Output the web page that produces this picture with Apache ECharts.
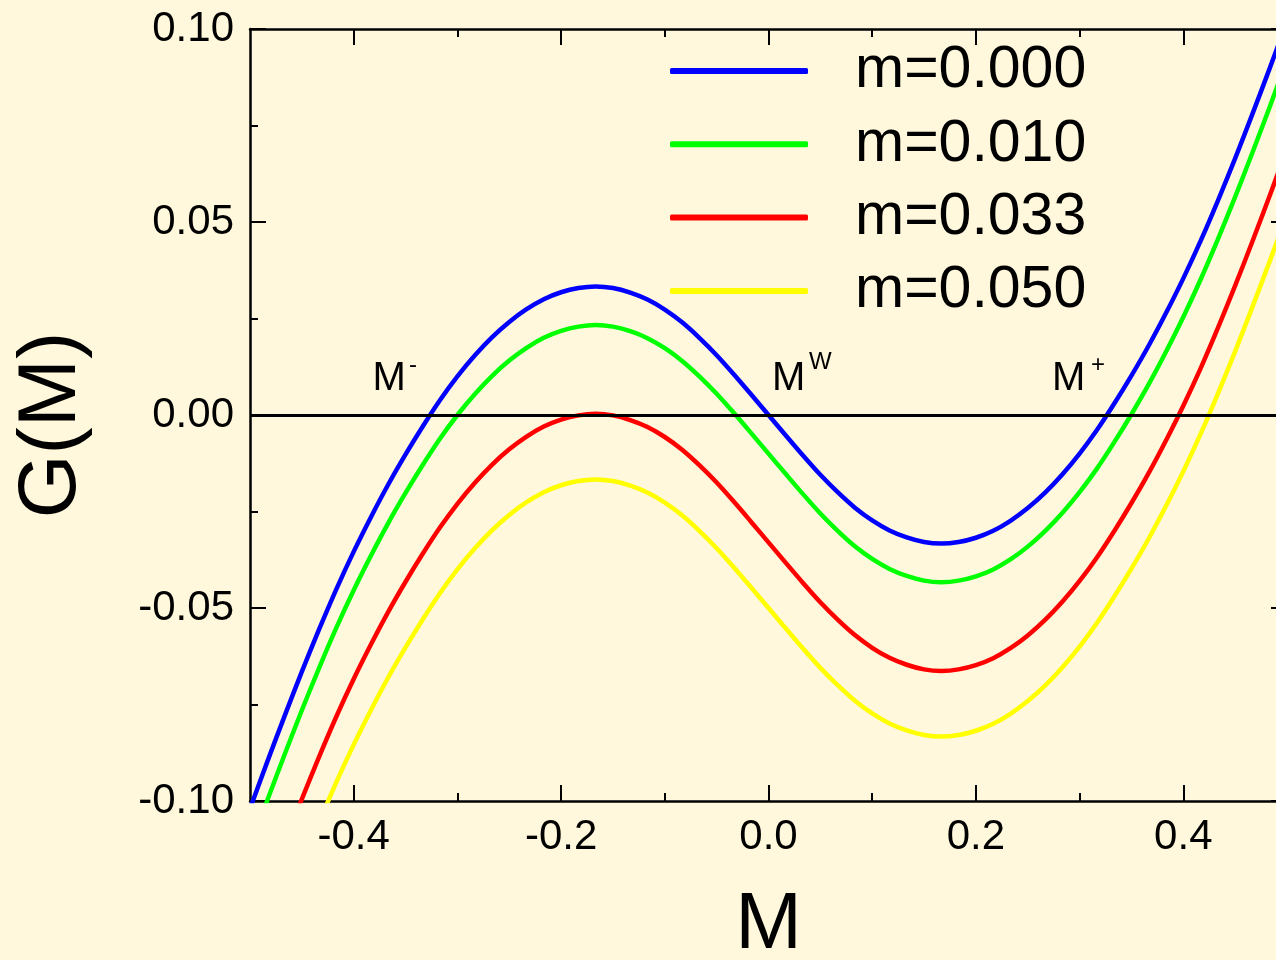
<!DOCTYPE html>
<html>
<head>
<meta charset="utf-8">
<script src="https://cdn.jsdelivr.net/npm/echarts@6.0.0/dist/echarts.min.js"></script>
<style>
html,body{margin:0;padding:0;background:#FFF8DC;}
#chart{width:1276px;height:960px;}
</style>
</head>
<body>
<div id="chart"></div>
<script>
// ---- data ----
const mValues = [-0.5, -0.4833, -0.4667, -0.45, -0.4333, -0.4167, -0.4, -0.3833, -0.3667, -0.35, -0.3333, -0.3167, -0.3, -0.2833, -0.2667, -0.25, -0.2333, -0.2167, -0.2, -0.1833, -0.1667, -0.15, -0.1333, -0.1167, -0.1, -0.0833, -0.0667, -0.05, -0.0333, -0.0167, 0, 0.0167, 0.0333, 0.05, 0.0667, 0.0833, 0.1, 0.1167, 0.1333, 0.15, 0.1667, 0.1833, 0.2, 0.2167, 0.2333, 0.25, 0.2667, 0.2833, 0.3, 0.3167, 0.3333, 0.35, 0.3667, 0.3833, 0.4, 0.4167, 0.4333, 0.45, 0.4667, 0.4833, 0.5];

const g000 = [-0.1020, -0.0898, -0.0780, -0.0665, -0.0555, -0.0451, -0.0354, -0.0264, -0.0180, -0.0102, -0.0029, 0.0039, 0.0100, 0.0154, 0.0201, 0.0241, 0.0274, 0.0300, 0.0318, 0.0329, 0.0333, 0.0329, 0.0317, 0.0299, 0.0273, 0.0240, 0.0200, 0.0155, 0.0105, 0.0053,
  0.0000,
  -0.0053, -0.0105, -0.0155, -0.0200, -0.0240, -0.0273, -0.0299, -0.0317, -0.0329, -0.0333, -0.0329, -0.0318, -0.0300, -0.0274, -0.0241, -0.0201, -0.0154, -0.0100, -0.0039, 0.0029, 0.0102, 0.0180, 0.0264, 0.0354, 0.0451, 0.0555, 0.0665, 0.0780, 0.0898, 0.1020];

const g010 = [-0.1120, -0.0998, -0.0880, -0.0765, -0.0655, -0.0551, -0.0454, -0.0364, -0.0280, -0.0202, -0.0129, -0.0061, 0.0000, 0.0054, 0.0101, 0.0141, 0.0174, 0.0200, 0.0218, 0.0229, 0.0233, 0.0229, 0.0217, 0.0199, 0.0173, 0.0140, 0.0100, 0.0055, 0.0005, -0.0047,
  -0.0100,
  -0.0153, -0.0205, -0.0255, -0.0300, -0.0340, -0.0373, -0.0399, -0.0417, -0.0429, -0.0433, -0.0429, -0.0418, -0.0400, -0.0374, -0.0341, -0.0301, -0.0254, -0.0200, -0.0139, -0.0071, 0.0002, 0.0080, 0.0164, 0.0254, 0.0351, 0.0455, 0.0565, 0.0680, 0.0798, 0.0920];

const g033 = [-0.1350, -0.1228, -0.1110, -0.0995, -0.0885, -0.0781, -0.0684, -0.0594, -0.0510, -0.0432, -0.0359, -0.0291, -0.0230, -0.0176, -0.0129, -0.0089, -0.0056, -0.0030, -0.0012, -0.0001, 0.0003, -0.0001, -0.0013, -0.0031, -0.0057, -0.0090, -0.0130, -0.0175, -0.0225, -0.0277,
  -0.0330,
  -0.0383, -0.0435, -0.0485, -0.0530, -0.0570, -0.0603, -0.0629, -0.0647, -0.0659, -0.0663, -0.0659, -0.0648, -0.0630, -0.0604, -0.0571, -0.0531, -0.0484, -0.0430, -0.0369, -0.0301, -0.0228, -0.0150, -0.0066, 0.0024, 0.0121, 0.0225, 0.0335, 0.0450, 0.0568, 0.0690];

const g050 = [-0.1520, -0.1398, -0.1280, -0.1165, -0.1055, -0.0951, -0.0854, -0.0764, -0.0680, -0.0602, -0.0529, -0.0461, -0.0400, -0.0346, -0.0299, -0.0259, -0.0226, -0.0200, -0.0182, -0.0171, -0.0167, -0.0171, -0.0183, -0.0201, -0.0227, -0.0260, -0.0300, -0.0345, -0.0395, -0.0447,
  -0.0500,
  -0.0553, -0.0605, -0.0655, -0.0700, -0.0740, -0.0773, -0.0799, -0.0817, -0.0829, -0.0833, -0.0829, -0.0818, -0.0800, -0.0774, -0.0741, -0.0701, -0.0654, -0.0600, -0.0539, -0.0471, -0.0398, -0.0320, -0.0236, -0.0146, -0.0049, 0.0055, 0.0165, 0.0280, 0.0398, 0.0520];

const seriesNames = ['m=0.000', 'm=0.010', 'm=0.033', 'm=0.050'];
const seriesValues = [g000, g010, g033, g050];
const seriesColors = ['#0000FF', '#00FF00', '#FF0000', '#FFFF00'];

const xMajorTicks = [-0.4, -0.2, 0, 0.2, 0.4];
const xMinorTicks = [-0.3, -0.1, 0.1, 0.3];
const yTickLabels = [-0.1, -0.05, 0, 0.05, 0.1];
const annotations = [
  { base: 'M', sup: '-' },
  { base: 'M', sup: 'W' },
  { base: 'M', sup: '+' }
];

// ---- chart ----
const FONT = "'Liberation Sans', Arial, Helvetica, sans-serif";
const chart = echarts.init(document.getElementById('chart'), null, { renderer: 'canvas' });

const X_MIN = -0.5, X_MAX = 0.5, Y_MIN = yTickLabels[0], Y_MAX = yTickLabels[yTickLabels.length - 1];
const axisLineStyle = { color: '#000', width: 2.5 };
const tickLineStyle = { color: '#000', width: 2 };

function xAxisDef(position, major, withLine, withLabel) {
  return {
    type: 'value', position: position, min: X_MIN, max: X_MAX, interval: 0.1,
    axisLine: { show: withLine, onZero: false, lineStyle: axisLineStyle },
    axisTick: { show: true, inside: true, length: major ? 16 : 8,
      customValues: major ? xMajorTicks : xMinorTicks, lineStyle: tickLineStyle },
    axisLabel: withLabel ? {
      show: true, customValues: xMajorTicks, margin: 15,
      formatter: v => (Math.abs(v) < 1e-9 ? 0 : v).toFixed(1),
      fontSize: 42, color: '#000', fontFamily: FONT
    } : { show: false },
    splitLine: { show: false }, minorTick: { show: false },
    name: withLabel ? 'M' : '', nameLocation: 'middle', nameGap: 85,
    nameTextStyle: { fontSize: 80, color: '#000', fontFamily: FONT }
  };
}

function yAxisDef(position, withLabel) {
  return {
    type: 'value', position: position, min: Y_MIN, max: Y_MAX, interval: 0.05,
    axisLine: { show: true, onZero: false, lineStyle: axisLineStyle },
    axisTick: { show: true, inside: true, length: 16, lineStyle: tickLineStyle },
    minorTick: { show: true, splitNumber: 2, length: 8, lineStyle: tickLineStyle },
    axisLabel: withLabel ? {
      show: true, margin: 16,
      formatter: v => (Math.abs(v) < 1e-9 ? 0 : v).toFixed(2),
      fontSize: 42, color: '#000', fontFamily: FONT
    } : { show: false },
    splitLine: { show: false }, minorSplitLine: { show: false },
    name: withLabel ? 'G(M)' : '', nameLocation: 'middle', nameGap: 157,
    nameTextStyle: { fontSize: 82, color: '#000', fontFamily: FONT, padding: [0, 20, 0, 0] }
  };
}

const series = seriesNames.map((name, i) => ({
  name: name, type: 'line', xAxisIndex: 0, yAxisIndex: 0,
  data: mValues.map((m, j) => [m, seriesValues[i][j]]),
  symbol: 'none', showSymbol: false, smooth: 0.3, clip: true,
  lineStyle: { color: seriesColors[i], width: 4.5, join: 'round', cap: 'round' },
  itemStyle: { color: seriesColors[i] },
  emphasis: { disabled: true }, silent: true, z: 2
}));
// zero reference line on top of the curves
series[3].markLine = {
  silent: true, symbol: ['none', 'none'], label: { show: false },
  lineStyle: { color: '#000', width: 3, type: 'solid' },
  emphasis: { disabled: true },
  data: [{ yAxis: 0 }]
};

const annX = [372.5, 772, 1052];
const supX = [409, 809, 1091];
const supY = [365, 362.5, 365.5];
const graphic = [];
annotations.forEach((a, i) => {
  graphic.push({ type: 'text', x: annX[i], y: 379, silent: true, z: 10,
    style: { text: a.base, font: '40px ' + FONT, fill: '#000', align: 'left', verticalAlign: 'middle' } });
  graphic.push({ type: 'text', x: supX[i], y: supY[i], silent: true, z: 10,
    style: { text: a.sup, font: '24px ' + FONT, fill: '#000', align: 'left', verticalAlign: 'middle' } });
});

const option = {
  backgroundColor: '#FFF8DC',
  animation: false,
  grid: { left: 250, top: 29, width: 1037, height: 772, outerBoundsMode: 'none', containLabel: false },
  xAxis: [
    xAxisDef('bottom', true, true, true),
    xAxisDef('bottom', false, false, false),
    xAxisDef('top', true, true, false),
    xAxisDef('top', false, false, false)
  ],
  yAxis: [yAxisDef('left', true), yAxisDef('right', false)],
  legend: {
    data: seriesNames, orient: 'vertical', left: 670, top: 41, padding: 0,
    icon: 'roundRect', itemWidth: 138, itemHeight: 6, itemGap: 13.3, selectedMode: false,
    textStyle: { fontSize: 59, lineHeight: 60, color: '#000', fontFamily: FONT, padding: [0, 0, 0, 42] }
  },
  tooltip: { show: false },
  graphic: graphic,
  series: series
};
chart.setOption(option);
</script>
</body>
</html>
